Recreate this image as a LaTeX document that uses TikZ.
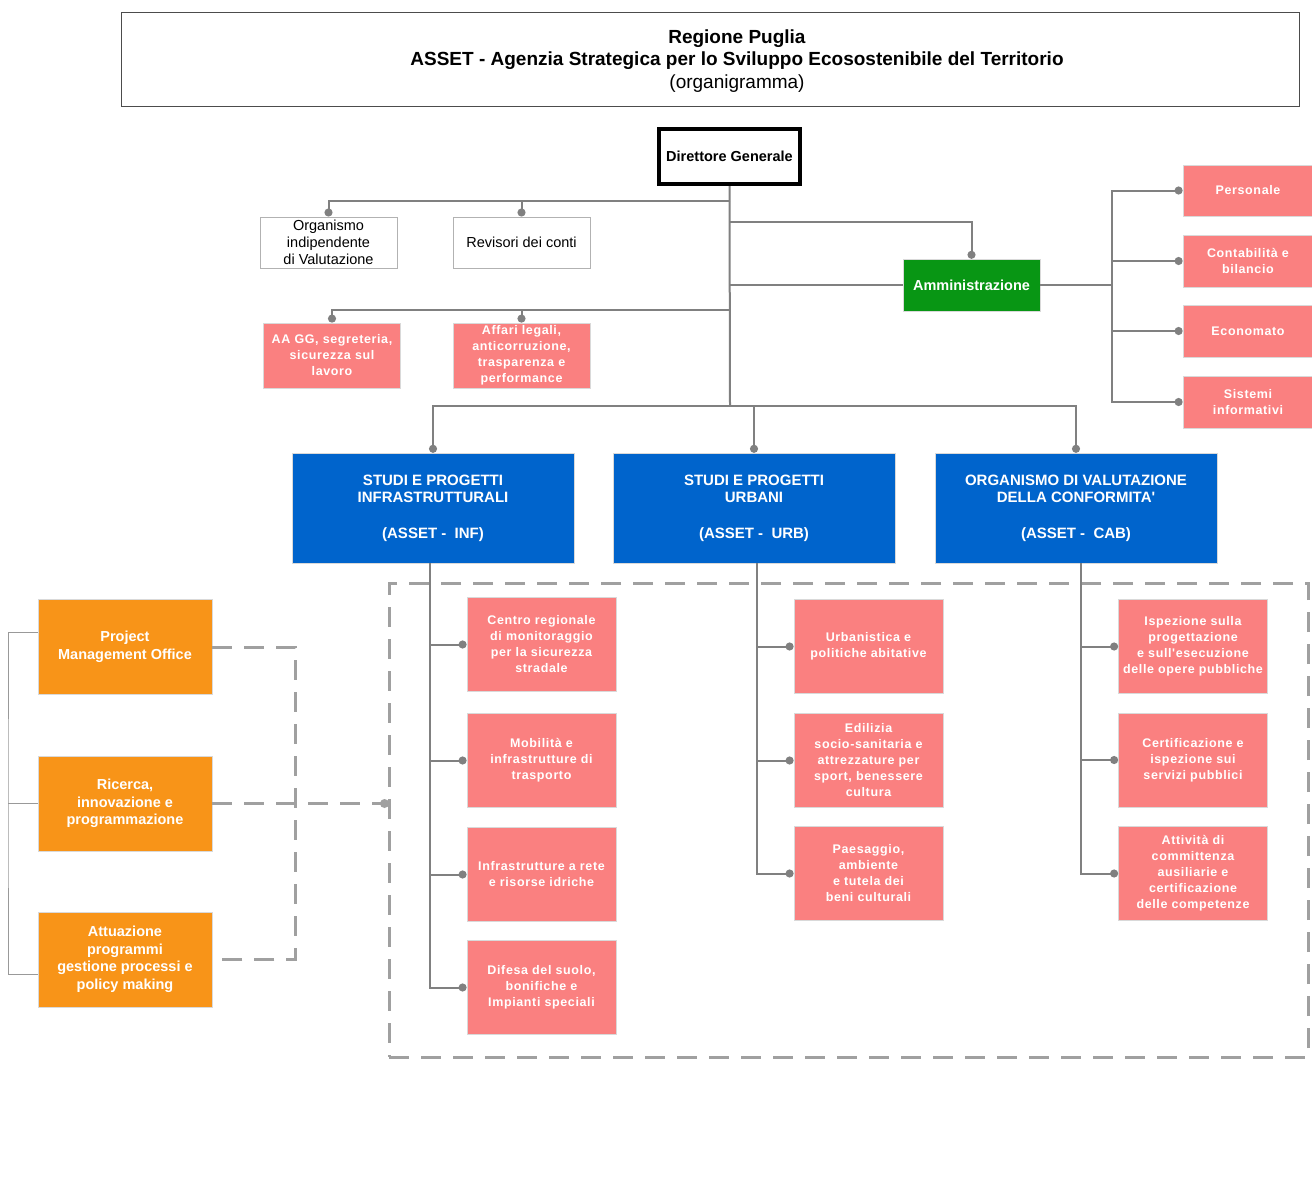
\documentclass[tikz,border=0pt]{standalone}
\usepackage{fontspec}
\setmainfont{Liberation Sans}[Ligatures=TeXOff]
\newfontfamily\spacedsans[LetterSpace=5, Ligatures=TeXOff]{Liberation Sans}
\usetikzlibrary{arrows.meta}

\definecolor{pinkred}{RGB}{250,128,128}
\definecolor{deptblue}{RGB}{0,100,204}
\definecolor{admgreen}{RGB}{8,150,20}
\definecolor{stafforange}{RGB}{248,148,24}
\definecolor{linkgray}{RGB}{128,128,128}
\definecolor{dashgray}{RGB}{160,160,160}

\tikzset{
	box/.style={rectangle, align=center, inner sep=1pt},
	titlebox/.style={box, draw=black!70, line width=1pt, minimum width=1178pt, minimum height=94pt},
	titletext/.style={box, font=\fontsize{19}{22.5}\selectfont},
	dgbox/.style={box, draw=black, line width=4pt, minimum width=141pt, minimum height=55pt, inner sep=0pt, font=\bfseries\fontsize{14.5}{17}\selectfont},
	whitebox/.style={box, draw=black!30, line width=1pt, fill=white, minimum width=137pt, minimum height=51pt, font=\fontsize{14.5}{17}\selectfont},
	pinkbox/.style={box, draw=black!15, line width=0.8pt, fill=pinkred, text=white, minimum width=149pt, minimum height=94pt, font=\spacedsans\bfseries\fontsize{12.5}{16}\selectfont},
	smallpink/.style={pinkbox, minimum width=137pt, minimum height=65pt},
	sidepink/.style={pinkbox, minimum width=130pt, minimum height=52pt},
	greenbox/.style={box, draw=black!15, fill=admgreen, text=white, minimum width=137pt, minimum height=52pt, font=\bfseries\fontsize{14.5}{17}\selectfont},
	bluebox/.style={box, draw=black!15, fill=deptblue, text=white, minimum width=282pt, minimum height=110pt, font=\bfseries\fontsize{15}{17}\selectfont},
	orangebox/.style={box, draw=black!15, fill=stafforange, text=white, minimum width=174pt, minimum height=95pt, font=\bfseries\fontsize{14.5}{17.5}\selectfont},
	link/.style={draw=linkgray, line width=2pt},
	dotlink/.style={link, -{Circle[length=8pt]}},
	thinlink/.style={draw=linkgray!80, line width=1pt},
	dashlink/.style={draw=dashgray, line width=3pt, dash pattern=on 20pt off 12pt},
	dashbox/.style={rectangle, draw=dashgray, line width=3pt, dash pattern=on 20pt off 12pt, minimum width=919pt, minimum height=474pt}
}

\begin{document}
\begin{tikzpicture}[x=1pt, y=-1pt]
		%%%%% FRAME %%%%%
		\fill[white] (0,0) rectangle (1312,1202);
		\useasboundingbox (0,0) rectangle (1312,1202);
		
		\node[titlebox] (title) at (710,59) {};
		\node[titletext] (titletxt) at (737,61) {\textbf{Regione Puglia}\\\textbf{ASSET - Agenzia Strategica per lo Sviluppo Ecosostenibile del Territorio}\\(organigramma)};
		
		%%%%% TOP %%%%%
		\node[dgbox] (dg) at (729.5,156.5) {Direttore Generale};
		
		\node[whitebox] (oiv) at (328.5,242.5) {Organismo\\indipendente\\di Valutazione};
		\node[whitebox] (rev) at (521.5,242.5) {Revisori dei conti};
		
		\node[smallpink] (aagg) at (332,355.5) {AA GG, segreteria,\\sicurezza sul\\lavoro};
		\node[smallpink] (legal) at (521.5,355.5) {Affari legali,\\anticorruzione,\\trasparenza e\\performance};
		
		\node[greenbox] (amm) at (971.5,285) {Amministrazione};
		
		\node[sidepink, minimum height=51pt] (pers) at (1248,190.5) {Personale};
		\node[sidepink] (cont) at (1248,261) {Contabilità e\\bilancio};
		\node[sidepink] (econ) at (1248,331) {Economato};
		\node[sidepink] (sist) at (1248,402) {Sistemi\\informativi};
		
		\coordinate (t1) at (730,201);
		\coordinate (t2) at (730,222);
		\coordinate (t4) at (730,310);
		\coordinate (t5) at (730,406);
		\coordinate (a1) at (1112,285);
		
		\draw[link] (dg.south) -- (t5);
		\draw[dotlink] (t1) -| (oiv.north);
		\draw[dotlink] (t1) -| (rev.north);
		\draw[dotlink] (t2) -| (amm.north);
		\draw[link] (amm.west) -- (amm.west -| t5);
		\draw[dotlink] (t4) -| (aagg.north);
		\draw[dotlink] (t4) -| (legal.north);
		
		\draw[link] (amm.east) -- (a1);
		\draw[dotlink] (a1) |- (pers.west);
		\draw[dotlink] (a1) |- (cont.west);
		\draw[dotlink] (a1) |- (econ.west);
		\draw[dotlink] (a1) |- (sist.west);
		
		%%%%% DEPARTMENTS %%%%%
		\node[bluebox] (inf) at (433,508) {STUDI E PROGETTI\\INFRASTRUTTURALI\\[19pt](ASSET -\ \ INF)};
		\node[bluebox] (urb) at (754,508) {STUDI E PROGETTI\\URBANI\\[19pt](ASSET -\ \ URB)};
		\node[bluebox] (cab) at (1076,508) {ORGANISMO DI VALUTAZIONE\\DELLA CONFORMITA'\\[19pt](ASSET -\ \ CAB)};
		
		\draw[dotlink] (t5) -| (inf.north);
		\draw[dotlink] (t5) -| (urb.north);
		\draw[dotlink] (t5) -| (cab.north);
		
		\node[dashbox] (grp) at (848.5,820) {};
		
		\node[pinkbox] (inf1) at (541.5,644.5) {Centro regionale\\di monitoraggio\\per la sicurezza\\stradale};
		\node[pinkbox] (inf2) at (541.5,760.5) {Mobilità e\\infrastrutture di\\trasporto};
		\node[pinkbox] (inf3) at (541.5,874.5) {Infrastrutture a rete\\e risorse idriche};
		\node[pinkbox] (inf4) at (541.5,987.5) {Difesa del suolo,\\bonifiche e\\Impianti speciali};
		
		\node[pinkbox] (urb1) at (868.5,646.5) {Urbanistica e\\politiche abitative};
		\node[pinkbox] (urb2) at (868.5,760.5) {Edilizia\\socio-sanitaria e\\attrezzature per\\sport, benessere\\cultura};
		\node[pinkbox] (urb3) at (868.5,873.5) {Paesaggio,\\ambiente\\e tutela dei\\beni culturali};
		
		\node[pinkbox] (cab1) at (1193,646.5) {Ispezione sulla\\progettazione\\e sull'esecuzione\\delle opere pubbliche};
		\node[pinkbox] (cab2) at (1193,760) {Certificazione e\\ispezione sui\\servizi pubblici};
		\node[pinkbox] (cab3) at (1193,873.5) {Attività di\\committenza\\ausiliarie e\\certificazione\\delle competenze};
		
		\draw[dotlink] ([xshift=-3pt]inf.south) |- (inf1.west);
		\draw[dotlink] ([xshift=-3pt]inf.south) |- (inf2.west);
		\draw[dotlink] ([xshift=-3pt]inf.south) |- (inf3.west);
		\draw[dotlink] ([xshift=-3pt]inf.south) |- (inf4.west);
		
		\draw[dotlink] ([xshift=3pt]urb.south) |- (urb1.west);
		\draw[dotlink] ([xshift=3pt]urb.south) |- (urb2.west);
		\draw[dotlink] ([xshift=3pt]urb.south) |- (urb3.west);
		
		\draw[dotlink] ([xshift=5pt]cab.south) |- (cab1.west);
		\draw[dotlink] ([xshift=5pt]cab.south) |- (cab2.west);
		\draw[dotlink] ([xshift=5pt]cab.south) |- (cab3.west);
		
		%%%%% STAFF %%%%%
		\node[orangebox] (pmo) at (125,647) {Project\\Management Office};
		\node[orangebox] (ric) at (125,803.5) {Ricerca,\\innovazione e\\programmazione};
		\node[orangebox] (att) at (125,959.5) {Attuazione\\programmi\\gestione processi e\\policy making};
		
		\coordinate (lb) at (8,803.5);
		\coordinate (ds) at (295,647);
		
		\draw[thinlink] ([yshift=15pt]pmo.west) -| (lb) |- ([yshift=-15pt]att.west);
		\draw[thinlink] (lb) -- (ric.west);
		
		\draw[dashlink] (pmo.east) -- (ds) |- (att.east);
		\draw[dashlink] (ric.east) -- (ric.east -| grp.west);
		\fill[dashgray] ([xshift=-3pt]ric.east -| grp.west) circle (4.5pt);
		
		%%%%% END %%%%%
\end{tikzpicture}
\end{document}
